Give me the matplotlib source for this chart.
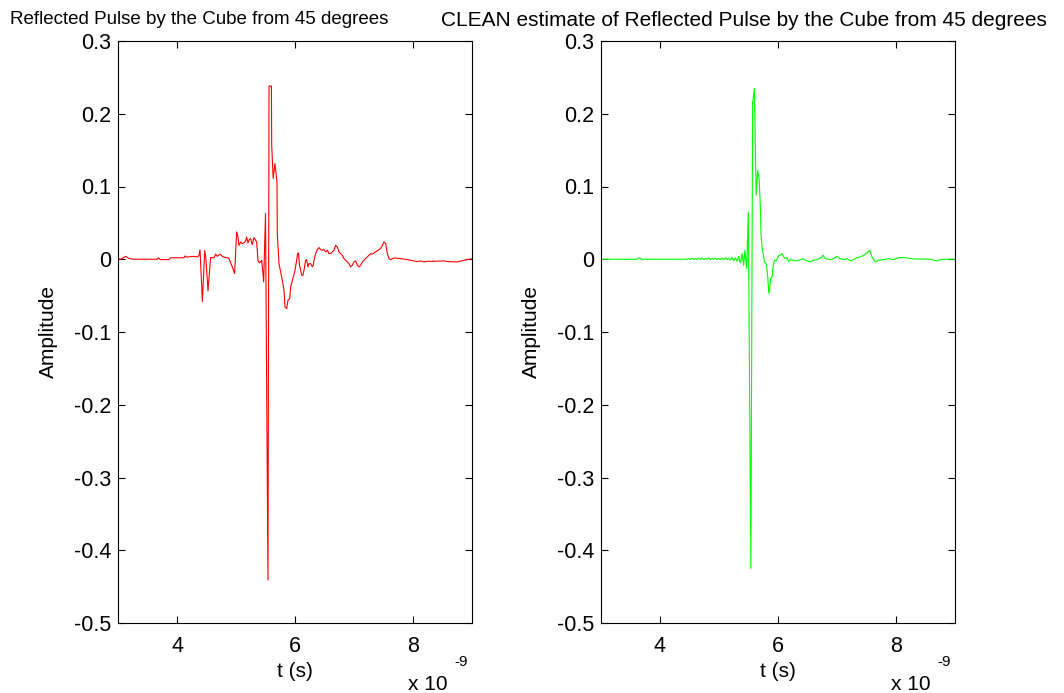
import matplotlib
matplotlib.use("Agg")
import matplotlib.pyplot as plt

plt.rcParams['font.family'] = ['Liberation Sans', 'DejaVu Sans']

# time axis in units of 1e-9 s
red_t = [3.00, 3.045, 3.13, 3.186, 3.27, 3.666, 3.683, 3.72, 3.864, 3.89, 4.12, 4.135,
         4.164, 4.288, 4.345, 4.373, 4.39, 4.43, 4.47, 4.49, 4.525, 4.57, 4.627, 4.655,
         4.683, 4.73, 4.768, 4.796, 4.853, 4.88, 4.909, 4.937, 4.977, 5.011, 5.034, 5.05,
         5.079, 5.107, 5.135, 5.164, 5.18, 5.203, 5.226, 5.248, 5.276, 5.305, 5.333, 5.35,
         5.373, 5.395, 5.418, 5.435, 5.452, 5.469, 5.50, 5.542, 5.56, 5.60, 5.605, 5.63,
         5.66, 5.695, 5.70, 5.729, 5.757, 5.785, 5.814, 5.83, 5.859, 5.881, 5.91, 5.927,
         5.955, 5.994, 6.023, 6.045, 6.06, 6.073, 6.096, 6.113, 6.135, 6.152, 6.18, 6.197,
         6.22, 6.237, 6.265, 6.294, 6.31, 6.322, 6.35, 6.378, 6.407, 6.435, 6.463, 6.491,
         6.52, 6.548, 6.576, 6.604, 6.633, 6.661, 6.689, 6.717, 6.746, 6.774, 6.802, 6.83,
         6.859, 6.887, 6.915, 6.943, 6.972, 7.0, 7.028, 7.056, 7.085, 7.113, 7.141, 7.169,
         7.198, 7.226, 7.254, 7.282, 7.31, 7.339, 7.367, 7.395, 7.424, 7.452, 7.48, 7.508,
         7.537, 7.565, 7.593, 7.621, 7.678, 7.79, 7.904, 8.017, 8.073, 8.13, 8.186, 8.243,
         8.356, 8.525, 8.582, 8.75, 8.864, 8.92, 9.0]
red_amp = [0.001, 0.0, 0.004, 0.001, 0.0, 0.0, 0.002, -0.0005, -0.0005, 0.002, 0.002, 0.0045,
           0.003, 0.004, 0.003, 0.0055, 0.013, -0.058, 0.012, 0.001, -0.0435, 0.0023, 0.002, 0.007,
           0.004, 0.007, 0.004, 0.003, 0.002, 0.001, -0.005, -0.0105, -0.0197, 0.0376, 0.0307, 0.019,
           0.0238, 0.0215, 0.0225, 0.0252, 0.0307, 0.0225, 0.027, 0.0284, 0.020, 0.0298, 0.026, 0.0238,
           -0.0023, -0.005, -0.0037, -0.0014, -0.0151, -0.0311, 0.063, -0.441, 0.238, 0.238, 0.157, 0.111,
           0.1315, 0.106, 0.035, -0.006, -0.0174, -0.029, -0.0426, -0.0655, -0.0678, -0.0564, -0.054, -0.038,
           -0.029, -0.0174, -0.004, 0.008, 0.0087, -0.006, -0.0151, -0.022, -0.022, -0.0151, -0.0014, -0.0005,
           -0.0105, -0.006, -0.006, -0.0105, -0.0082, -0.0014, 0.0078, 0.0133, 0.016, 0.0133, 0.0124, 0.0133,
           0.0101, 0.0124, 0.0078, 0.0078, 0.0101, 0.0124, 0.0192, 0.017, 0.0101, 0.0078, 0.0055, 0.0009,
           -0.0014, -0.0037, -0.006, -0.0105, -0.0082, -0.0037, -0.0023, -0.0082, -0.0105, -0.0082, -0.0037, -0.0014,
           0.0009, 0.0032, 0.0055, 0.0078, 0.0069, 0.0087, 0.0101, 0.0115, 0.0133, 0.0147, 0.0192, 0.0238,
           0.0215, 0.0078, 0.0009, -0.0005, 0.0018, 0.0009, -0.0005, -0.0023, -0.0032, -0.0023, -0.0037, -0.0028,
           -0.0028, -0.0023, -0.0032, -0.0037, -0.0014, -0.0005, 0.0005]

green_t = [3.00, 3.61, 3.655, 3.695, 4.458, 4.486, 4.514, 4.542, 4.57, 4.599, 4.627, 4.655,
           4.683, 4.712, 4.74, 4.768, 4.796, 4.825, 4.853, 4.881, 4.909, 4.938, 4.966, 4.994,
           5.022, 5.051, 5.079, 5.107, 5.135, 5.164, 5.192, 5.22, 5.248, 5.277, 5.305, 5.333,
           5.361, 5.39, 5.418, 5.44, 5.47, 5.497, 5.54, 5.57, 5.60, 5.615, 5.63, 5.655,
           5.68, 5.70, 5.712, 5.735, 5.75, 5.77, 5.80, 5.815, 5.83, 5.845, 5.86, 5.875,
           5.90, 5.92, 5.94, 5.97, 6.017, 6.04, 6.068, 6.096, 6.124, 6.152, 6.18, 6.209,
           6.265, 6.322, 6.378, 6.435, 6.463, 6.491, 6.548, 6.604, 6.661, 6.717, 6.763, 6.802,
           6.887, 6.943, 7.0, 7.045, 7.113, 7.169, 7.226, 7.282, 7.339, 7.395, 7.452, 7.508,
           7.553, 7.593, 7.65, 7.706, 7.791, 7.876, 7.96, 8.045, 8.13, 8.3, 8.582, 8.695,
           8.75, 8.864, 9.0]
green_amp = [0.0, 0.0, 0.002, 0.0, 0.0, 0.0012, -0.0004, 0.0015, 0.0, 0.0010, -0.0005, 0.0016,
             0.0, 0.0018, -0.0004, 0.0010, 0.0, 0.0020, -0.0005, 0.0014, 0.0, 0.0018, -0.0005, 0.0012,
             -0.0005, 0.0016, -0.0004, 0.0020, -0.0005, 0.0015, -0.0012, 0.0028, -0.0020, 0.0020, -0.0025, 0.0038,
             -0.005, 0.0078, -0.0082, 0.0124, -0.0128, 0.065, -0.425, 0.216, 0.2346, 0.157, 0.088, 0.122,
             0.111, 0.074, 0.035, 0.012, 0.0078, -0.0037, -0.006, -0.015, -0.029, -0.047, -0.04, -0.0266,
             -0.024, -0.008, -0.0014, -0.002, 0.0055, 0.0055, 0.0078, 0.0032, 0.0009, 0.0023, -0.0037, -0.0005,
             -0.0014, -0.0023, -0.0005, 0.0005, -0.0014, -0.0023, -0.0037, -0.0014, -0.0005, 0.0014, 0.0055, 0.0009,
             -0.0005, 0.0009, 0.0041, 0.0009, -0.0005, 0.0009, -0.0023, -0.0005, 0.0023, 0.0032, 0.0055, 0.0087,
             0.0124, 0.0032, -0.0037, -0.0014, -0.0005, 0.0009, -0.0005, 0.0023, 0.0023, 0.0005, 0.0, -0.0023,
             -0.0005, 0.0, 0.0]

titles = ["Reflected Pulse by the Cube from 45 degrees",
          "CLEAN estimate of Reflected Pulse by the Cube from 45 degrees"]
x_ticks = [4, 6, 8]
y_ticks = [0.3, 0.2, 0.1, 0, -0.1, -0.2, -0.3, -0.4, -0.5]
y_tick_labels = ["0.3", "0.2", "0.1", "0", "-0.1", "-0.2", "-0.3", "-0.4", "-0.5"]

W, H = 1064, 693
fig = plt.figure(figsize=(W / 100, H / 100), dpi=100)

ax_specs = [
    (118, red_t, red_amp, '#ff0000', titles[0], 199, 13.5),
    (601, green_t, green_amp, '#00ff00', titles[1], 744, 15.0),
]
for left_px, t, a, col, title, title_cx, title_fs in ax_specs:
    ax = fig.add_axes([left_px / W, (H - 623) / H, 354 / W, 582 / H])
    ax.plot(t, a, color=col, linewidth=0.8)
    ax.set_xlim(3, 9)
    ax.set_ylim(-0.5, 0.3)
    ax.set_xticks(x_ticks)
    ax.set_xticklabels([str(v) for v in x_ticks])
    ax.set_yticks(y_ticks)
    ax.set_yticklabels(y_tick_labels)
    ax.tick_params(direction='in', length=5, width=0.8, top=True, right=True,
                   labelsize=15.5, colors='black')
    ax.tick_params(axis='x', pad=9)
    ax.tick_params(axis='y', pad=5)
    for s in ax.spines.values():
        s.set_linewidth(0.8)
        s.set_color('black')
    ax.set_ylabel("Amplitude", fontsize=15, labelpad=11)
    ax.set_xlabel("t (s)", fontsize=15, labelpad=4)
    fig.text(title_cx / W, 1 - 20 / H, title, fontsize=title_fs, ha='center', va='center')
    # exponent label
    fig.text((left_px + 290) / W, 1 - 684 / H, "x 10", fontsize=15, ha='left', va='center')
    fig.text((left_px + 336) / W, 1 - 662 / H, "-9", fontsize=11, ha='left', va='center')

fig.savefig("out.png", dpi=100, facecolor='white')
